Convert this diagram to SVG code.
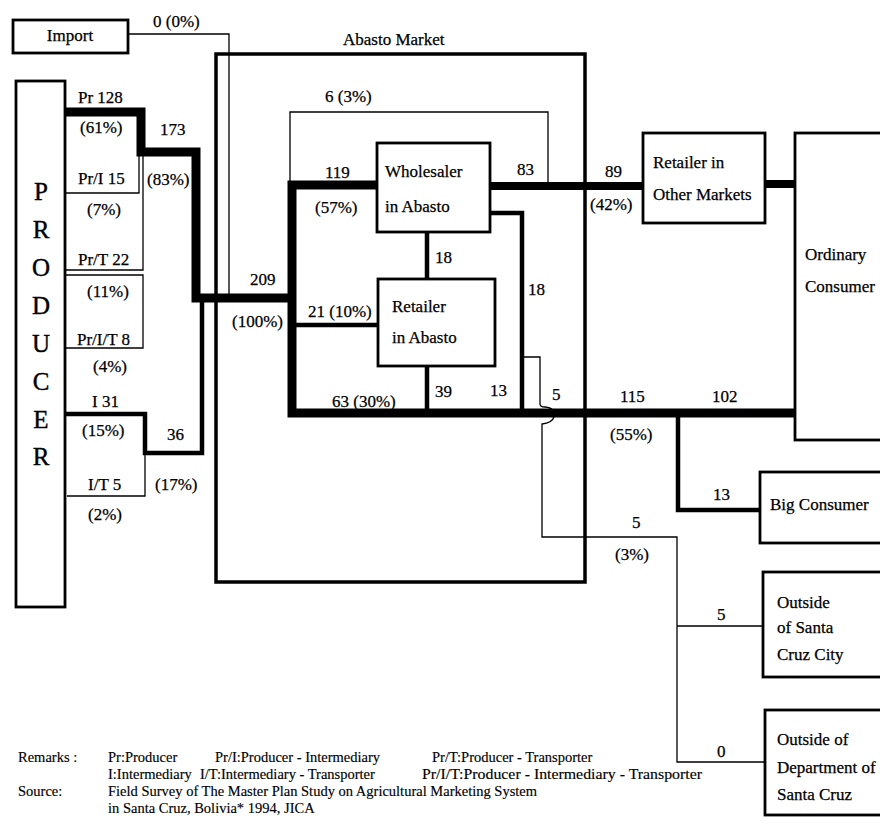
<svg xmlns="http://www.w3.org/2000/svg" width="880" height="831" viewBox="0 0 880 831">
<style>
text{font-family:"Liberation Serif","Times New Roman",serif;font-size:17px;fill:#000;stroke:#000;stroke-width:0.25}
.rm{font-size:14.5px;stroke-width:0.15}
.big{font-size:25px;stroke-width:0.4}
.box{fill:#fff;stroke:#000;stroke-width:2.8}
.area{fill:none;stroke:#000;stroke-width:3.5}
.thick{fill:none;stroke:#000;stroke-width:9;stroke-linejoin:miter}
.med{fill:none;stroke:#000;stroke-width:4.5;stroke-linejoin:miter}
.thin{fill:none;stroke:#000;stroke-width:1.3}
</style>
<rect width="880" height="831" fill="#fff"/>
<g id="abasto-market">
<rect class="area" x="216" y="54" width="369" height="528"/>
<text x="343" y="45">Abasto Market</text>
</g>
<g id="connectors">
<path class="thin" d="M128,34 H229 V298"/>
<path class="thin" d="M290,181 V112 H548 V182"/>
<path class="thin" d="M65,193 H139 V152"/>
<path class="thin" d="M65,270 H143 V156"/>
<path class="thin" d="M65,275 H143 V348 H65"/>
<path class="thin" d="M67,496 H145 V453"/>
<path class="thin" d="M522,357 H540 V404 Q540,407 545,407 Q556,408 554,417 Q552,423 542,424 V537 H677 V762 H765 M677,626 H763"/>
<path class="thick" d="M65,112 H141 V152 H196 V298 H292"/>
<path class="thick" d="M377,185 H292 V413 H797"/>
<path class="thick" d="M490,186 H643 M765,184 H795" style="stroke-width:8"/>
<path class="med" d="M65,414 H145 V453 H202 V298"/>
<path class="med" d="M427,232 V279 M427,366 V413 M292,325 H378"/>
<path class="med" d="M490,213 H522 V413"/>
<path class="med" d="M678,413 V510 H760"/>
</g>
<g id="labels">
<text x="153" y="27">0 (0%)</text>
<text x="78" y="103">Pr 128</text>
<text x="80" y="133">(61%)</text>
<text x="160" y="135">173</text>
<text x="78" y="184">Pr/I 15</text>
<text x="147" y="185">(83%)</text>
<text x="87" y="215">(7%)</text>
<text x="78" y="265">Pr/T 22</text>
<text x="87" y="297">(11%)</text>
<text x="77" y="345">Pr/I/T 8</text>
<text x="93" y="372">(4%)</text>
<text x="92" y="407">I 31</text>
<text x="82" y="436">(15%)</text>
<text x="167" y="440">36</text>
<text x="88" y="490">I/T 5</text>
<text x="155" y="490">(17%)</text>
<text x="88" y="520">(2%)</text>
<text x="250" y="285">209</text>
<text x="232" y="327">(100%)</text>
<text x="325" y="102">6 (3%)</text>
<text x="325" y="178">119</text>
<text x="315" y="213">(57%)</text>
<text x="517" y="175">83</text>
<text x="435" y="263">18</text>
<text x="528" y="295">18</text>
<text x="308" y="317">21 (10%)</text>
<text x="332" y="407">63 (30%)</text>
<text x="435" y="397">39</text>
<text x="490" y="396">13</text>
<text x="552" y="400">5</text>
<text x="620" y="402">115</text>
<text x="712" y="402">102</text>
<text x="610" y="440">(55%)</text>
<text x="605" y="177">89</text>
<text x="590" y="210">(42%)</text>
<text x="713" y="500">13</text>
<text x="632" y="528">5</text>
<text x="615" y="560">(3%)</text>
<text x="717" y="620">5</text>
<text x="717" y="757">0</text>
</g>
<g id="import">
<rect class="box" x="13" y="20" width="115" height="33"/>
<text x="70" y="41" text-anchor="middle">Import</text>
</g>
<g id="producer">
<rect class="box" x="16" y="81" width="49" height="526"/>
<g text-anchor="middle">
<text class="big" x="41" y="200">P</text>
<text class="big" x="41" y="238">R</text>
<text class="big" x="41" y="276">O</text>
<text class="big" x="41" y="314">D</text>
<text class="big" x="41" y="352">U</text>
<text class="big" x="41" y="390">C</text>
<text class="big" x="41" y="428">E</text>
<text class="big" x="41" y="465">R</text>
</g>
</g>
<g id="wholesaler">
<rect class="box" x="377" y="143" width="113" height="89"/>
<text x="385" y="177">Wholesaler</text>
<text x="385" y="212">in Abasto</text>
</g>
<g id="retailer-abasto">
<rect class="box" x="378" y="279" width="117" height="87"/>
<text x="392" y="312">Retailer</text>
<text x="392" y="343">in Abasto</text>
</g>
<g id="retailer-other">
<rect class="box" x="643" y="133" width="122" height="90"/>
<text x="653" y="168">Retailer in</text>
<text x="653" y="200">Other Markets</text>
</g>
<g id="ordinary-consumer">
<rect class="box" x="795" y="133" width="100" height="307"/>
<text x="805" y="260">Ordinary</text>
<text x="805" y="292">Consumer</text>
</g>
<g id="big-consumer">
<rect class="box" x="760" y="472" width="130" height="71"/>
<text x="770" y="510">Big Consumer</text>
</g>
<g id="outside-city">
<rect class="box" x="763" y="572" width="130" height="105"/>
<text x="777" y="608">Outside</text>
<text x="777" y="633">of Santa</text>
<text x="777" y="660">Cruz City</text>
</g>
<g id="outside-dept">
<rect class="box" x="765" y="710" width="130" height="105"/>
<text x="777" y="745">Outside of</text>
<text x="777" y="773">Department of</text>
<text x="777" y="800">Santa Cruz</text>
</g>
<g id="remarks">
<text class="rm" x="18" y="762">Remarks :</text>
<text class="rm" x="108" y="762">Pr:Producer</text>
<text class="rm" x="215" y="762">Pr/I:Producer - Intermediary</text>
<text class="rm" x="432" y="762">Pr/T:Producer - Transporter</text>
<text class="rm" x="108" y="779">I:Intermediary</text>
<text class="rm" x="200" y="779">I/T:Intermediary - Transporter</text>
<text class="rm" x="422" y="779" textLength="280" lengthAdjust="spacingAndGlyphs">Pr/I/T:Producer - Intermediary - Transporter</text>
<text class="rm" x="18" y="796">Source:</text>
<text class="rm" x="108" y="796">Field Survey of The Master Plan Study on Agricultural Marketing System</text>
<text class="rm" x="108" y="813">in Santa Cruz, Bolivia* 1994, JICA</text>
</g>
</svg>
